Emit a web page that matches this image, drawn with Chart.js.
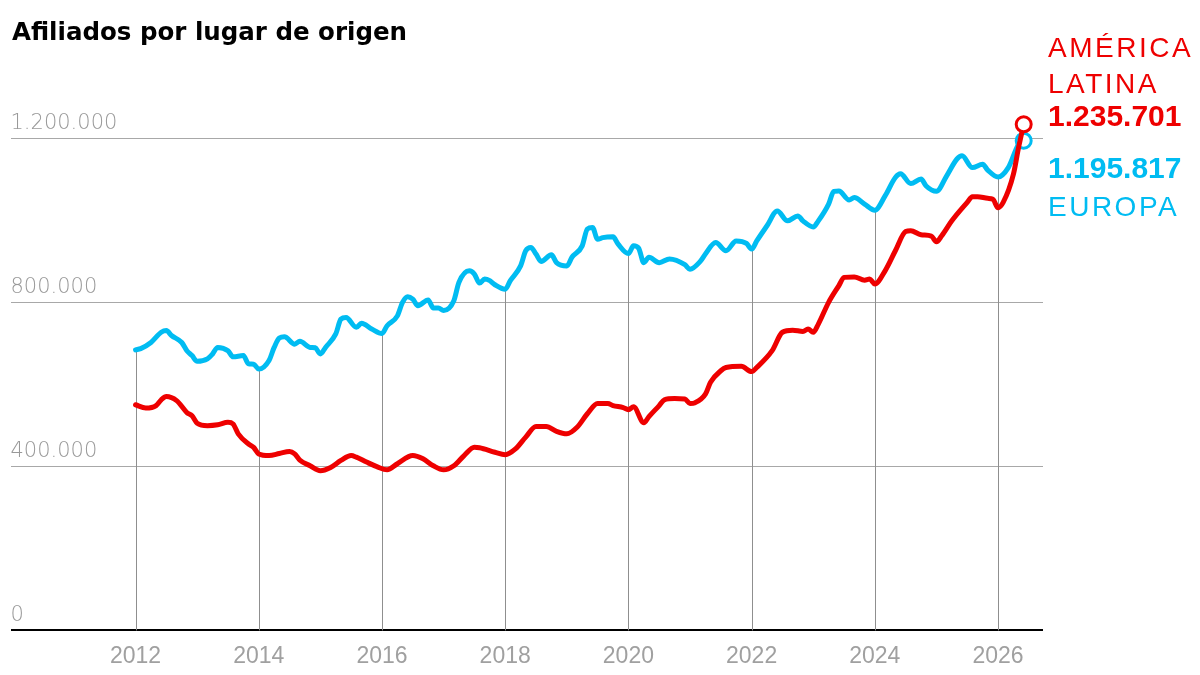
<!DOCTYPE html>
<html><head><meta charset="utf-8">
<script src="https://cdn.jsdelivr.net/npm/chart.js@4.4.1/dist/chart.umd.min.js"></script>
<style>html,body{margin:0;padding:0;background:#fff}#wrap{width:1200px;height:675px;position:relative}</style>
</head><body><div id="wrap"><canvas id="c" width="1200" height="675"></canvas></div>
<script>
const titulo = 'Afiliados por lugar de origen';
const nombreAmerica = ['AMÉRICA', 'LATINA'];
const nombreEuropa = ['EUROPA'];

const fechasAmerica = ['2012-01','2012-03','2012-05','2012-06','2012-07','2012-09','2012-11','2012-12',
'2013-01','2013-03','2013-05','2013-07','2013-08','2013-09','2013-11','2013-12',
'2014-01','2014-03','2014-05','2014-07','2014-08','2014-09','2014-11',
'2015-01','2015-03','2015-05','2015-07','2015-08','2015-10','2015-12',
'2016-02','2016-04','2016-07','2016-09','2016-11',
'2017-01','2017-03','2017-05','2017-07','2017-08','2017-11',
'2018-01','2018-03','2018-05','2018-07','2018-09','2018-11',
'2019-01','2019-03','2019-05','2019-07','2019-09','2019-10','2019-12',
'2020-01','2020-02','2020-04','2020-05','2020-07','2020-08','2020-10','2020-12',
'2021-01','2021-02','2021-04','2021-05','2021-07','2021-08','2021-11',
'2022-01','2022-02','2022-05','2022-07','2022-09','2022-11','2022-12',
'2023-01','2023-02','2023-04','2023-06','2023-07','2023-09','2023-11','2023-12',
'2024-01','2024-03','2024-05','2024-07','2024-08','2024-10','2024-12',
'2025-01','2025-02','2025-04','2025-07','2025-08','2025-09','2025-11','2025-12',
'2026-01','2026-02','2026-04','2026-05','2026-06'];
const valoresAmerica = [551000,543000,549000,563000,571000,561000,532000,524000,
506000,500000,502000,508000,504000,480000,455000,447000,
431000,427000,432000,437000,431000,416000,402000,
390000,398000,415000,427000,423000,411000,400000,
392000,407000,427000,419000,402000,
392000,402000,427000,447000,446000,435000,
429000,443000,472000,498000,498000,486000,
480000,496000,529000,554000,554000,549000,544000,
539000,546000,507000,522000,549000,563000,566000,565000,
554000,556000,577000,606000,634000,642000,645000,
632000,642000,683000,728000,733000,730000,736000,
728000,748000,801000,842000,862000,863000,855000,858000,
846000,878000,927000,974000,976000,966000,963000,
949000,963000,1000000,1045000,1059000,1059000,1055000,1053000,
1032000,1045000,1114000,1179000,1235701];

const fechasEuropa = ['2012-01','2012-02','2012-04','2012-06','2012-07','2012-08','2012-10','2012-11','2012-12',
'2013-01','2013-03','2013-04','2013-05','2013-07','2013-08','2013-10','2013-11','2013-12',
'2014-01','2014-03','2014-04','2014-05','2014-06','2014-08','2014-09','2014-11','2014-12',
'2015-01','2015-02','2015-04','2015-05','2015-06','2015-08','2015-09','2015-11',
'2016-01','2016-02','2016-04','2016-05','2016-06','2016-07','2016-08','2016-10','2016-11','2016-12',
'2017-01','2017-03','2017-04','2017-06','2017-07','2017-08','2017-09','2017-10','2017-11',
'2018-01','2018-02','2018-04','2018-05','2018-06','2018-07','2018-08','2018-10','2018-11',
'2019-01','2019-02','2019-04','2019-05','2019-06','2019-07','2019-08','2019-10','2019-11',
'2020-01','2020-02','2020-03','2020-04','2020-05','2020-07','2020-09','2020-12',
'2021-01','2021-03','2021-04','2021-06','2021-08','2021-10','2021-12',
'2022-01','2022-02','2022-04','2022-06','2022-08','2022-10','2022-11',
'2023-01','2023-02','2023-04','2023-05','2023-06','2023-08','2023-09','2023-11',
'2024-01','2024-03','2024-05','2024-06','2024-08','2024-10','2024-11',
'2025-01','2025-03','2025-05','2025-06','2025-08','2025-10','2025-11',
'2026-01','2026-03','2026-05','2026-06'];
const valoresEuropa = [685000,688000,703000,728000,732000,720000,703000,683000,671000,
657000,663000,675000,691000,683000,668000,671000,651000,650000,
638000,659000,691000,714000,717000,699000,706000,691000,690000,
675000,691000,724000,760000,764000,740000,750000,736000,
725000,744000,768000,801000,815000,809000,793000,807000,787000,787000,
781000,805000,850000,878000,870000,848000,858000,854000,844000,
833000,854000,890000,927000,935000,919000,901000,917000,898000,
890000,911000,939000,980000,984000,955000,959000,961000,943000,
920000,939000,933000,898000,911000,898000,907000,893000,
882000,901000,919000,947000,927000,951000,945000,
931000,951000,988000,1024000,1000000,1012000,1000000,
985000,1000000,1041000,1072000,1073000,1051000,1057000,1041000,
1026000,1061000,1106000,1115000,1091000,1102000,1085000,
1072000,1110000,1151000,1159000,1130000,1138000,1124000,
1107000,1130000,1187000,1195817];

const aniosEje = [2012, 2014, 2016, 2018, 2020, 2022, 2024, 2026];
const valoresEje = [0, 400000, 800000, 1200000];

const ROJO = '#ee0000';
const AZUL = '#00bcf2';
const GRIS = '#a0a0a0';

function aDecimal(f) { const [a, m] = f.split('-').map(Number); return a + (m - 1) / 12; }
function fmt(n) { return String(Math.round(n)).replace(/\B(?=(\d{3})+(?!\d))/g, '.'); }
function puntos(fechas, valores) { return fechas.map((f, i) => ({ x: aDecimal(f), y: valores[i] })); }

const ultimo = arr => ctx => ctx.dataIndex === arr.length - 1 ? 7.5 : 0;

const plugins = [{
  id: 'fondo',
  beforeDraw(chart) {
    const c = chart.ctx; c.save(); c.fillStyle = '#fff'; c.fillRect(0, 0, chart.width, chart.height); c.restore();
  },
  beforeDatasetsDraw(chart) {
    const c = chart.ctx, meta = chart.getDatasetMeta(1), area = chart.chartArea;
    c.save(); c.strokeStyle = '#8f8f8f'; c.lineWidth = 1;
    aniosEje.forEach(a => {
      const i = fechasEuropa.indexOf(a + '-01');
      if (i < 0) return;
      const p = meta.data[i];
      const x = Math.round(p.x) + 0.5;
      c.beginPath(); c.moveTo(x, p.y); c.lineTo(x, area.bottom); c.stroke();
    });
    c.restore();
  },
  afterDraw(chart) {
    const c = chart.ctx, area = chart.chartArea;
    c.save();
    c.fillStyle = '#000';
    c.font = 'bold 24.5px "DejaVu Sans"';
    c.textBaseline = 'alphabetic';
    c.fillText(titulo, 12, 40);
    const x = area.right + 5;
    c.letterSpacing = '2.5px';
    c.font = '28px "Liberation Sans"';
    c.fillStyle = ROJO;
    c.fillText(nombreAmerica[0], x, 57);
    c.fillText(nombreAmerica[1], x, 93);
    c.fillStyle = AZUL;
    c.fillText(nombreEuropa[0], x, 216);
    c.letterSpacing = '0px';
    c.font = 'bold 30px "Liberation Sans"';
    c.fillStyle = ROJO;
    c.fillText(fmt(valoresAmerica[valoresAmerica.length - 1]), x, 126);
    c.fillStyle = AZUL;
    c.fillText(fmt(valoresEuropa[valoresEuropa.length - 1]), x, 178);
    c.restore();
  }
}];

new Chart(document.getElementById('c'), {
  type: 'line',
  data: {
    datasets: [
      {
        label: 'América Latina', data: puntos(fechasAmerica, valoresAmerica),
        borderColor: ROJO, borderWidth: 5, cubicInterpolationMode: 'monotone',
        borderJoinStyle: 'round', borderCapStyle: 'round',
        pointRadius: ultimo(valoresAmerica), pointBackgroundColor: '#fff',
        pointBorderColor: ROJO, pointBorderWidth: 3, clip: false
      },
      {
        label: 'Europa', data: puntos(fechasEuropa, valoresEuropa),
        borderColor: AZUL, borderWidth: 5, cubicInterpolationMode: 'monotone',
        borderJoinStyle: 'round', borderCapStyle: 'round',
        pointRadius: ultimo(valoresEuropa), pointBackgroundColor: '#fff',
        pointBorderColor: AZUL, pointBorderWidth: 3, clip: false
      }
    ]
  },
  options: {
    responsive: false, animation: false, devicePixelRatio: 1,
    layout: { padding: { left: 10, right: 157, top: 98, bottom: -7 } },
    plugins: { legend: { display: false }, tooltip: { enabled: false }, title: { display: false } },
    scales: {
      x: {
        type: 'linear', min: 2009.97, max: 2026.73,
        afterBuildTicks: s => { s.ticks = aniosEje.map(v => ({ value: v })); },
        ticks: { callback: v => String(v), color: GRIS, padding: 12, autoSkip: false, maxRotation: 0,
          font: { family: '"Liberation Sans"', size: 23 } },
        grid: { display: false, drawTicks: false },
        border: { display: false }
      },
      y: {
        min: 0, max: 1300000,
        afterBuildTicks: s => { s.ticks = valoresEje.map(v => ({ value: v })); },
        ticks: { mirror: true, padding: 0, labelOffset: -15, callback: v => fmt(v), color: '#999',
          font: { family: '"DejaVu Sans"', size: 21, weight: 300 } },
        grid: { color: c => (c.tick && c.tick.value === 0) ? '#000' : '#a8a8a8',
          lineWidth: c => (c.tick && c.tick.value === 0) ? 2 : 1, drawTicks: false },
        border: { display: false }
      }
    }
  },
  plugins
});
</script>
</body></html>
